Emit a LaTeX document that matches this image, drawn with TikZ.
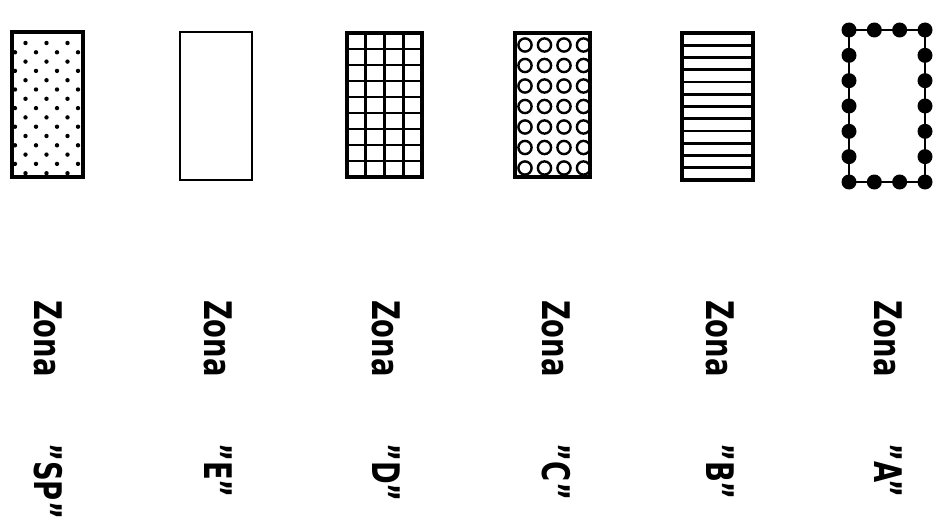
\documentclass[tikz,border=0pt]{standalone}
\usepackage{fontspec}
\setsansfont{DejaVu Sans}
\usetikzlibrary{positioning}

\begin{document}
\begin{tikzpicture}[x=1pt,y=-1pt,
    bordo/.style={line width=3.6pt},
    linea/.style={line width=2.8pt},
    etich/.style={rotate=-90, anchor=west, inner sep=0pt, xscale=0.72,
      font=\sffamily\bfseries\fontsize{38}{40}\selectfont}]
  \useasboundingbox (0,0) rectangle (944,524);

  % Zona SP: puntinato
  \begin{scope}
    \clip (12,32) rectangle (83,177);
    \foreach \r in {0,...,14}
      \foreach \c in {0,...,3}
        \fill ({15+mod(\r+1,2)*10.5+\c*21},{43+\r*9.3}) circle (2.2pt);
  \end{scope}
  \draw[bordo] (12,32) rectangle (83,177);

  % Zona E: vuota
  \draw[line width=2.4pt] (180,32) rectangle (252,180);

  % Zona D: griglia
  \foreach \k in {1,2,3}
    \draw[linea] ({347+\k*18.75},33) -- ({347+\k*18.75},177);
  \foreach \k in {1,...,8}
    \draw[linea] (347,{33+\k*16}) -- (422,{33+\k*16});
  \draw[bordo] (347,33) rectangle (422,177);

  % Zona C: cerchietti
  \begin{scope}
    \clip (515,33) rectangle (590,177);
    \foreach \r in {0,...,6}
      \foreach \c in {0,...,3}
        \draw[line width=2.4pt] ({525+\c*19.5},{45+\r*20.5}) circle (6.6pt);
  \end{scope}
  \draw[bordo] (515,33) rectangle (590,177);

  % Zona B: righe orizzontali
  \foreach \k in {1,...,11}
    \draw[linea] (682,{33+\k*12.25}) -- (753,{33+\k*12.25});
  \draw[bordo] (682,33) rectangle (753,180);

  % Zona A: contorno a pallini
  \draw[line width=2.8pt] (849,30) rectangle (925,182);
  \foreach \k in {0,...,3} {
    \fill ({849+\k*25.33},30) circle (7.5pt);
    \fill ({849+\k*25.33},182) circle (7.5pt);
  }
  \foreach \k in {1,...,5} {
    \fill (849,{30+\k*25.33}) circle (7.5pt);
    \fill (925,{30+\k*25.33}) circle (7.5pt);
  }

  % Etichette
  \foreach \x/\n in {48/SP, 218/E, 386/D, 556/C, 720/B, 888/A} {
    \node[etich] (zona\n) at (\x,300) {Zona};
    \node[etich] (lab\n) at (\x,443) {"\n"};
  }
\end{tikzpicture}
\end{document}
